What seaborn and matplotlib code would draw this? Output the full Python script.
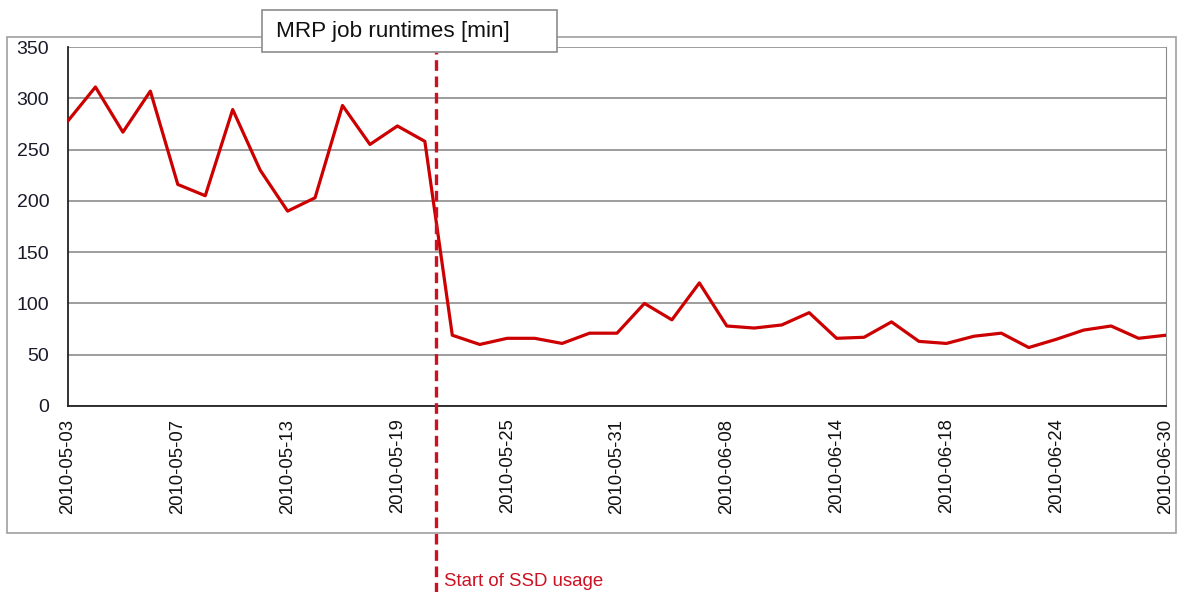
import numpy as np
import pandas as pd
import matplotlib
matplotlib.use('Agg')
import matplotlib.pyplot as plt
from matplotlib.patches import Rectangle
import seaborn as sns

# Runtime values (one point per job run)
runtimes = [278, 311, 267, 307, 216, 205, 289, 230, 190, 203,
            293, 255, 273, 258, 69, 60, 66, 66, 61, 71,
            71, 100, 84, 120, 78, 76, 79, 91, 66, 67,
            82, 63, 61, 68, 71, 57, 65, 74, 78, 66, 69]
tick_labels = ['2010-05-03', '2010-05-07', '2010-05-13', '2010-05-19',
               '2010-05-25', '2010-05-31', '2010-06-08', '2010-06-14',
               '2010-06-18', '2010-06-24', '2010-06-30']
tick_step = 4
ssd_start = 13.4  # position between run 13 and 14

sns.set_style('white')
plt.rcParams['font.family'] = ['Liberation Sans', 'DejaVu Sans']

df = pd.DataFrame({'run': np.arange(len(runtimes)), 'minutes': runtimes})

W, H = 1178, 592
fig = plt.figure(figsize=(W / 100, H / 100), dpi=100)
ax = fig.add_axes([68 / W, (H - 406) / H, (1166 - 68) / W, (406 - 47) / H])

# outer chart frame
fig.patches.append(Rectangle((7 / W, (H - 533) / H), (1176 - 7) / W, (533 - 37) / H,
                             transform=fig.transFigure, facecolor='none',
                             edgecolor='#a0a0a0', linewidth=1.2, zorder=0))

sns.lineplot(data=df, x='run', y='minutes', ax=ax, color='#cc0000',
             linewidth=2.3, zorder=3)

ax.set_xlim(0, len(runtimes) - 1)
ax.set_ylim(0, 350)
ax.set_yticks(range(0, 351, 50))
ax.set_xticks(range(0, len(runtimes), tick_step))
ax.set_xticklabels(tick_labels, rotation=90, fontsize=13.3, color='#111111')
ax.tick_params(axis='y', labelsize=14, labelcolor='#1a1a2a', direction='inout',
               length=7, width=1, pad=10)
ax.tick_params(axis='x', direction='out', length=6, width=1, pad=3)
ax.set_xlabel('')
ax.set_ylabel('')

ax.grid(axis='y', color='#8c8c8c', linewidth=1.2)
ax.grid(axis='x', visible=False)
ax.spines['left'].set_color('#222222')
ax.spines['bottom'].set_color('#222222')
ax.spines['right'].set_color('#8c8c8c')
ax.spines['top'].set_visible(False)
for s in ['left', 'bottom']:
    ax.spines[s].set_linewidth(1.3)

# SSD marker line, running below the frame
ax.axvline(ssd_start, ymin=-0.52, ymax=0.985, color='#cc1122', linewidth=2.4,
           linestyle=(0, (3.2, 1.7)), clip_on=False, zorder=4)
ax.text(ssd_start + 0.3, -0.49, 'Start of SSD usage', transform=ax.get_xaxis_transform(),
        color='#cc1122', fontsize=13.4, va='center', ha='left', clip_on=False)

# title box
fig.patches.append(Rectangle((262 / W, (H - 52) / H), (557 - 262) / W, (52 - 10) / H,
                             transform=fig.transFigure, facecolor='white',
                             edgecolor='#8c8c8c', linewidth=1.2, zorder=10))
fig.text(276 / W, (H - 31) / H, 'MRP job runtimes [min]', fontsize=16.2,
         va='center', ha='left', color='#111111', zorder=11)

fig.savefig('out.png', dpi=100)
